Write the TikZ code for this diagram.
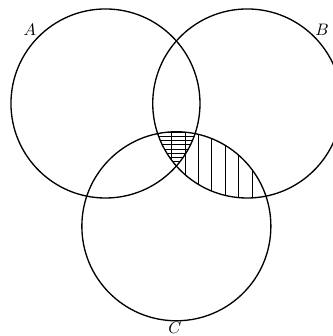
\documentclass[tikz,border=0pt]{standalone}
\begin{document}
\begin{tikzpicture}[x=2cm,y=2cm,
  circ/.style={line width=0.8pt},
  hatch/.style={line width=0.4pt}]
\useasboundingbox (-1.116,-2.460) rectangle (2.407,1.095);
\coordinate (ca) at (0,0);
\coordinate (cb) at (1.5,0);
\coordinate (cc) at (0.75,-1.299);
% vertical hatching in B cap C
\begin{scope}
  \clip (cb) circle (1);
  \clip (cc) circle (1);
  \foreach \k in {0,...,9}
    \draw[hatch] (0.556+0.1423*\k,-1) -- (0.556+0.1423*\k,0);
\end{scope}
% horizontal hatching in A cap B cap C
\begin{scope}
  \clip (ca) circle (1);
  \clip (cb) circle (1);
  \clip (cc) circle (1);
  \foreach \k in {0,...,9}
    \draw[hatch] (0.4,-0.305-0.0439*\k) -- (1.1,-0.305-0.0439*\k);
\end{scope}
\draw[circ] (ca) circle (1);
\draw[circ] (cb) circle (1);
\draw[circ] (cc) circle (1);
\node (la) at (-0.80,0.778) {$A$};
\node (lb) at (2.291,0.778) {$B$};
\node (lc) at (0.735,-2.376) {$C$};
\end{tikzpicture}
\end{document}
